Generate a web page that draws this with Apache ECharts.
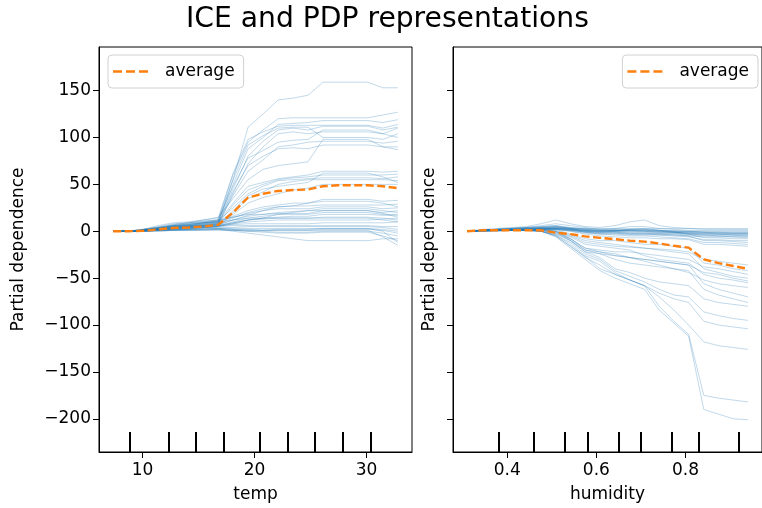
<!DOCTYPE html>
<html>
<head>
<meta charset="utf-8">
<script src="https://cdn.jsdelivr.net/npm/echarts@6/dist/echarts.min.js"></script>
<style>
  html, body { margin: 0; padding: 0; background: #fff; }
  #chart { width: 762px; height: 508px; }
</style>
</head>
<body>
<div id="chart"></div>
<script>
// grid points of the two features
const tempGrid = [7.38, 8.72, 10.06, 11.39, 12.73, 14.07, 15.41, 16.75, 18.08, 19.42,
  20.76, 22.10, 23.43, 24.77, 26.11, 27.45, 28.79, 30.12, 31.46, 32.80]
const humidityGrid = [0.31, 0.343, 0.376, 0.409, 0.443, 0.476, 0.509, 0.542, 0.575, 0.608,
  0.642, 0.675, 0.708, 0.741, 0.774, 0.807, 0.841, 0.874, 0.907, 0.94]

// deciles drawn as rug ticks at the bottom
const tempDeciles = [8.86, 12.3, 14.76, 17.22, 20.5, 22.96, 25.42, 27.88, 30.34]
const humidityDeciles = [0.38, 0.46, 0.53, 0.58, 0.65, 0.70, 0.77, 0.83, 0.92]

// axis ticks
const tempTicks = [10, 20, 30]
const humidityTicks = [0.4, 0.6, 0.8]
const yTicks = [-200, -150, -100, -50, 0, 50, 100, 150]

// partial dependence (average)
const tempAverage = [0, 0, 0.5, 2, 3.5, 4, 5, 7, 20, 36, 40, 43, 44, 44.5, 48, 49, 49, 49, 48, 46]
const humidityAverage = [0, 1, 1, 1, 1, 1, -1.5, -3, -5.5, -7, -8.5, -10, -11, -13, -15.5, -17.5, -30, -34, -37, -40]

// individual conditional expectation lines
const tempIce = [
  [0, 0, 1, 2, 4, 5, 7, 9, 55, 111, 125, 140, 142, 145, 159, 159, 159, 159, 153, 153],
  [0, 0, 2, 5, 8, 9, 10, 12, 60, 95, 108, 120, 121, 121, 121, 121, 121, 121, 124, 127],
  [0, 0, 1, 4, 6, 7, 9, 10, 50, 88, 100, 114, 115, 116, 118, 118, 118, 118, 116, 119],
  [0, 0, 2, 6, 9, 10, 12, 14, 62, 98, 106, 112, 113, 113, 113, 113, 113, 113, 110, 114],
  [0, 0, 1, 3, 5, 6, 8, 9, 45, 80, 96, 108, 110, 108, 112, 112, 112, 112, 108, 111],
  [0, 0, 0, 2, 4, 5, 6, 7, 40, 72, 90, 104, 106, 104, 106, 106, 106, 106, 104, 110],
  [0, 0, 1, 3, 6, 8, 9, 11, 55, 92, 102, 110, 111, 111, 100, 100, 100, 100, 98, 104],
  [0, 0, 2, 4, 7, 9, 11, 12, 48, 78, 86, 95, 97, 98, 108, 108, 108, 108, 104, 100],
  [0, 0, 1, 2, 4, 5, 6, 8, 38, 64, 76, 90, 92, 95, 96, 96, 96, 96, 94, 96],
  [0, 0, 1, 3, 5, 6, 7, 9, 42, 70, 80, 88, 89, 88, 92, 92, 92, 92, 90, 90],
  [0, 0, 1, 4, 7, 9, 12, 15, 35, 55, 66, 70, 72, 74, 98, 98, 98, 98, 90, 87],
  [0, 0, 1, 3, 5, 6, 8, 10, 30, 48, 52, 56, 58, 60, 64, 64, 64, 64, 63, 64],
  [0, 0, 1, 2, 4, 5, 6, 8, 28, 44, 50, 55, 57, 58, 60, 60, 60, 60, 60, 61],
  [0, 0, 2, 4, 6, 7, 9, 11, 25, 40, 48, 54, 55, 56, 57, 57, 57, 57, 56, 58],
  [0, 0, 1, 2, 3, 4, 5, 6, 20, 35, 42, 50, 53, 55, 55, 55, 55, 55, 55, 54],
  [0, 0, 1, 3, 5, 6, 7, 8, 22, 38, 45, 48, 50, 52, 62, 62, 62, 62, 58, 52],
  [0, 0, 0, 1, 2, 3, 4, 5, 18, 30, 36, 40, 44, 46, 50, 50, 50, 50, 50, 50],
  [0, 0, 1, 3, 5, 6, 8, 10, 16, 22, 26, 28, 30, 30, 34, 34, 34, 34, 32, 33],
  [0, 0, 1, 2, 4, 5, 6, 8, 14, 20, 24, 26, 27, 27, 28, 28, 28, 28, 28, 29],
  [0, 0, 2, 4, 6, 7, 9, 11, 15, 19, 22, 24, 24, 24, 26, 26, 26, 26, 24, 25],
  [0, 0, 1, 3, 4, 5, 6, 7, 12, 16, 18, 20, 21, 22, 22, 22, 22, 22, 20, 22],
  [0, 0, 1, 2, 3, 4, 5, 6, 10, 14, 16, 18, 18, 18, 20, 20, 20, 20, 18, 18],
  [0, 0, 1, 3, 6, 8, 10, 12, 15, 18, 18, 19, 19, 19, 22, 22, 22, 22, 19, 15],
  [0, 0, 0, 1, 2, 3, 4, 5, 8, 12, 14, 15, 16, 16, 18, 18, 18, 18, 17, 17],
  [0, 0, 1, 2, 3, 4, 5, 6, 9, 12, 13, 14, 14, 14, 15, 15, 15, 15, 14, 12],
  [0, 0, 1, 3, 5, 7, 9, 10, 12, 14, 14, 14, 14, 14, 14, 14, 14, 14, 12, 10],
  [0, 0, 1, 2, 3, 3, 4, 5, 8, 10, 11, 12, 12, 12, 12, 12, 12, 12, 13, 14],
  [0, 0, 1, 2, 4, 5, 6, 7, 12, 17, 22, 26, 27, 30, 32, 32, 32, 32, 30, 26],
  [0, 0, 1, 2, 3, 4, 5, 6, 9, 12, 14, 18, 20, 22, 24, 24, 24, 24, 22, 20],
  [0, 0, 1, 2, 3, 4, 5, 6, 7, 8, 8, 8, 8, 8, 9, 9, 9, 9, 9, 10],
  [0, 0, 0, 1, 2, 3, 4, 5, 6, 6, 6, 6, 6, 6, 6, 6, 6, 6, 5, 5],
  [0, 0, 1, 2, 3, 3, 4, 4, 4, 5, 5, 5, 5, 5, 5, 5, 5, 5, 4, 2],
  [0, 0, 0, 1, 1, 2, 2, 3, 3, 3, 3, 3, 3, 3, 3, 3, 3, 3, 2, 0],
  [0, 0, 1, 1, 2, 2, 3, 3, 2, 2, 1, 1, 1, 1, 2, 2, 2, 2, 1, -2],
  [0, 0, 0, 1, 1, 1, 2, 2, 1, 0, 0, -1, -1, -1, 0, 0, 0, 0, -2, -5],
  [0, 0, 0, 0, 1, 1, 1, 2, 0, -2, -4, -6, -8, -10, -10, -10, -10, -10, -8, -8],
  [0, 0, 0, 1, 1, 2, 2, 2, 1, 0, -1, -2, -2, -2, -1, -1, -1, -1, -5, -10],
  [0, 0, 1, 1, 2, 2, 3, 3, 2, 1, 1, 1, 1, 1, 1, 1, 1, 1, -6, -15],
  [0, 0, 0, 0, 1, 1, 1, 1, 1, 1, 1, 2, 2, 2, 3, 3, 3, 3, 0, -12]
]

const humidityIce = [
  [0, 1, 2, 2, 2, 3, 4, 3, 3, 3, 3, 3, 3, 3, 3, 3, 3, 3, 3, 3],
  [0, 2, 3, 4, 5, 8, 12, 8, 5, 4, 6, 10, 12, 6, 4, 3, 2, 2, 2, 2],
  [0, 1, 2, 3, 4, 6, 8, 6, 4, 2, 3, 5, 5, 3, 2, 1, 1, 1, 1, 1],
  [0, 1, 1, 1, 1, 2, 2, 1, 0, 0, 0, 1, 1, 0, 0, 0, 0, 0, 0, 0],
  [0, 1, 2, 2, 3, 4, 5, 3, 1, 0, 1, 2, 2, 1, 0, -1, -1, -1, -1, -1],
  [0, 1, 1, 2, 2, 3, 3, 2, 1, 0, 0, 0, 0, -1, -1, -2, -2, -2, -2, -2],
  [0, 1, 2, 3, 4, 5, 6, 4, 2, 1, 1, 1, 1, 0, -1, -2, -3, -3, -3, -3],
  [0, 0, 1, 1, 1, 2, 2, 1, 0, -1, -1, -2, -2, -2, -2, -3, -4, -4, -4, -4],
  [0, 1, 2, 2, 3, 4, 4, 2, 0, -1, -1, -2, -2, -3, -3, -4, -5, -5, -5, -5],
  [0, 1, 1, 2, 2, 2, 3, 1, -1, -2, -2, -3, -3, -3, -4, -5, -6, -6, -6, -6],
  [0, 1, 2, 3, 4, 5, 6, 3, 0, -1, 0, 2, 3, 1, -1, -3, -7, -7, -8, -8],
  [0, 0, 1, 1, 2, 2, 2, 0, -2, -3, -3, -4, -4, -4, -5, -6, -9, -9, -10, -10],
  [0, 1, 1, 2, 2, 3, 3, 1, -1, -2, -2, -3, -3, -4, -4, -5, -10, -10, -11, -12],
  [0, 1, 2, 3, 3, 4, 5, 2, -1, -3, -4, -5, -5, -6, -7, -8, -12, -12, -13, -14],
  [0, 1, 1, 1, 2, 2, 2, 0, -3, -5, -6, -7, -7, -8, -8, -9, -14, -14, -15, -16],
  [0, 1, 2, 3, 4, 4, 5, 4, 3, 2, 2, 2, 2, 1, 1, 0, -1, -2, -2, -2],
  [0, 1, 1, 2, 2, 3, 3, 3, 2, 1, 1, 1, 0, 0, -1, -1, -2, -3, -4, -5],
  [0, 0, 1, 1, 2, 2, 3, 2, 1, 0, 0, -1, -1, -2, -2, -3, -4, -5, -6, -7],
  [0, 1, 2, 2, 3, 3, 4, 3, 2, 1, 1, 0, 0, -1, -1, -2, -3, -3, -3, -3],
  [0, 1, 1, 2, 2, 3, 3, 2, 1, 1, 1, 1, 1, 1, 0, 0, -1, -1, -2, -2],
  [0, 1, 1, 1, 1, 1, 0, -5, -12, -14, -16, -17, -18, -19, -20, -22, -30, -32, -34, -36],
  [0, 1, 2, 2, 3, 3, 2, -3, -8, -10, -10, -12, -14, -14, -16, -18, -34, -36, -40, -42],
  [0, 0, 1, 1, 1, 1, 0, -8, -18, -20, -22, -22, -24, -26, -28, -30, -38, -40, -43, -46],
  [0, 1, 1, 2, 2, 2, 1, -4, -10, -12, -14, -16, -18, -20, -22, -24, -40, -44, -48, -50],
  [0, 1, 1, 1, 2, 2, 0, -10, -22, -24, -26, -28, -30, -32, -34, -36, -44, -46, -50, -53],
  [0, 0, 1, 1, 1, 1, -1, -6, -14, -16, -18, -20, -26, -30, -32, -34, -46, -50, -52, -55],
  [0, 1, 1, 2, 2, 2, 0, -8, -20, -22, -24, -28, -32, -36, -40, -44, -52, -56, -58, -60],
  [0, 1, 1, 1, 1, 1, -2, -8, -18, -22, -26, -28, -30, -32, -34, -36, -56, -62, -66, -70],
  [0, 0, 1, 1, 1, 0, -3, -10, -20, -24, -30, -34, -36, -38, -40, -42, -62, -68, -72, -76],
  [0, 1, 1, 1, 1, 1, -2, -10, -22, -28, -40, -44, -50, -54, -56, -58, -72, -76, -78, -80],
  [0, 1, 1, 1, 1, 0, -4, -12, -24, -30, -42, -48, -54, -62, -68, -70, -86, -90, -93, -95],
  [0, 0, 0, 1, 1, 0, -4, -14, -26, -32, -44, -52, -58, -66, -72, -76, -96, -100, -102, -104],
  [0, 1, 1, 1, 1, 0, -5, -16, -28, -36, -46, -52, -58, -70, -84, -100, -118, -122, -124, -126],
  [0, 0, 0, 1, 1, 0, -5, -16, -27, -40, -46, -52, -58, -80, -96, -110, -175, -178, -180, -182],
  [0, 1, 1, 1, 1, 0, -6, -18, -30, -42, -50, -56, -62, -84, -98, -112, -190, -195, -200, -201]
]

const yMin = -235.4
const yMax = 196.5
const font = 'DejaVu Sans'
const minus = v => (v < 0 ? '\u2212' + Math.abs(v) : String(v))

let myChart = echarts.init(document.getElementById('chart'))

function iceSeries (grid, lines, axis) {
  return lines.map(line => ({
    type: 'line',
    xAxisIndex: axis,
    yAxisIndex: axis / 2,
    data: grid.map((x, i) => [x, line[i]]),
    symbol: 'none',
    silent: true,
    z: 2,
    lineStyle: { color: '#1f77b4', width: 1, opacity: 0.28 }
  }))
}

function avgSeries (grid, values, axis) {
  return {
    name: 'average',
    type: 'line',
    xAxisIndex: axis,
    yAxisIndex: axis / 2,
    data: grid.map((x, i) => [x, values[i]]),
    symbol: 'none',
    silent: true,
    z: 3,
    lineStyle: { color: '#ff7f0e', width: 2.4, type: [8, 3.5] }
  }
}

function valueAxis (gridIndex, min, max, ticks, name) {
  return {
    type: 'value',
    gridIndex: gridIndex,
    min: min,
    max: max,
    name: name,
    nameLocation: 'middle',
    nameGap: 34,
    nameTextStyle: { fontFamily: font, fontSize: 17, color: '#000' },
    axisLine: { show: true, onZero: false, lineStyle: { color: '#000', width: 1 } },
    axisTick: { show: true, length: 6, customValues: ticks, lineStyle: { color: '#000', width: 1 } },
    axisLabel: { customValues: ticks, margin: 10, fontFamily: font, fontSize: 17, color: '#000' },
    splitLine: { show: false }
  }
}

function decileAxis (gridIndex, min, max, deciles) {
  return {
    type: 'value',
    gridIndex: gridIndex,
    position: 'bottom',
    min: min,
    max: max,
    axisLine: { show: false, onZero: false },
    axisTick: { show: true, inside: true, length: 20, customValues: deciles, lineStyle: { color: '#000', width: 2 } },
    axisLabel: { show: false },
    splitLine: { show: false }
  }
}

function yAxis (gridIndex, showLabels, gap) {
  return {
    type: 'value',
    gridIndex: gridIndex,
    min: yMin,
    max: yMax,
    name: 'Partial dependence',
    nameLocation: 'middle',
    nameGap: gap,
    nameTextStyle: { fontFamily: font, fontSize: 17, color: '#000' },
    axisLine: { show: true, onZero: false, lineStyle: { color: '#000', width: 1 } },
    axisTick: { show: true, length: 6, customValues: yTicks, lineStyle: { color: '#000', width: 1 } },
    axisLabel: { show: showLabels, customValues: yTicks, margin: 8, formatter: minus, fontFamily: font, fontSize: 17, color: '#000' },
    splitLine: { show: false }
  }
}

function legend (pos) {
  return Object.assign({
    data: [{ name: 'average', icon: 'path://M0,0h9v2.6h-9zM13,0h9v2.6h-9zM26,0h9v2.6h-9z' }],
    top: 55,
    orient: 'vertical',
    selectedMode: false,
    backgroundColor: 'rgba(255,255,255,0.8)',
    borderColor: '#d0d0d0',
    borderWidth: 1,
    borderRadius: 4,
    padding: [8, 9, 8, 5],
    itemWidth: 35,
    itemHeight: 2.6,
    itemStyle: { color: '#ff7f0e', borderWidth: 0 },
    textStyle: { fontFamily: font, fontSize: 17, color: '#000', padding: [0, 0, 0, 12] }
  }, pos)
}

myChart.setOption({
  animation: false,
  title: {
    text: 'ICE and PDP representations',
    left: 181,
    top: 1,
    textStyle: { fontFamily: font, fontSize: 28.2, fontWeight: 'normal', color: '#000' }
  },
  legend: [legend({ left: 108 }), legend({ right: 4 })],
  grid: [
    { left: 99, top: 47, width: 313, height: 406, show: true, borderColor: '#000', borderWidth: 1 },
    { left: 453, top: 47, right: -5, height: 406, show: true, borderColor: '#000', borderWidth: 1 }
  ],
  xAxis: [
    valueAxis(0, 6.11, 34.06, tempTicks, 'temp'),
    decileAxis(0, 6.11, 34.06, tempDeciles),
    valueAxis(1, 0.2785, 0.9715, humidityTicks, 'humidity'),
    decileAxis(1, 0.2785, 0.9715, humidityDeciles)
  ],
  yAxis: [yAxis(0, true, 72), yAxis(1, false, 15)],
  series: [].concat(
    iceSeries(tempGrid, tempIce, 0),
    [avgSeries(tempGrid, tempAverage, 0)],
    iceSeries(humidityGrid, humidityIce, 2),
    [avgSeries(humidityGrid, humidityAverage, 2)]
  )
})
</script>
</body>
</html>
